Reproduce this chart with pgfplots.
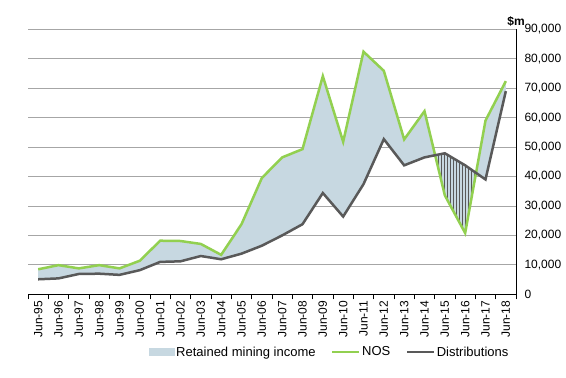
\documentclass[border=0pt]{standalone}
\usepackage{pgfplots}
\pgfplotsset{compat=1.18}
\usepackage{pgfplotstable}
\usepgfplotslibrary{fillbetween}
\usetikzlibrary{patterns}
\usepackage{fontspec}
\setmainfont{Liberation Sans}
\definecolor{nosgreen}{HTML}{92D050}
\definecolor{distgray}{HTML}{595959}
\definecolor{areablue}{HTML}{C7D8E1}
\definecolor{gridgray}{HTML}{A6A6A6}

\pgfplotstableread{
x nos dist
0 8500 5100
1 9900 5400
2 8800 6900
3 9900 7000
4 8800 6600
5 11400 8200
6 18200 11000
7 18100 11200
8 17100 13000
9 13400 11900
10 23800 13800
11 39500 16500
12 46500 20000
13 49300 23800
14 74100 34400
15 51800 26400
16 82400 37400
17 75900 52700
18 52600 43800
19 62200 46500
20 33600 47900
21 20800 43800
22 59000 39000
23 72400 69000
}\datatable

\begin{document}
\begin{tikzpicture}
\path (0pt,0pt) rectangle (566pt,378pt);
\begin{axis}[
  set layers,
  clip=false,
  at={(28pt,83.7pt)}, anchor=south west,
  scale only axis, width=488pt, height=265pt,
  xmin=-0.5, xmax=23.5, ymin=0, ymax=90000,
  axis x line*=bottom, axis y line*=right,
  axis line style={black, line width=0.75pt},
  ymajorgrids, major grid style={gridgray, line width=0.75pt},
  ytick={0,10000,...,90000},
  scaled y ticks=false,
  /pgf/number format/assume math mode=true,
  /pgf/number format/1000 sep={,},
  ytick style={draw=none},
  yticklabel style={anchor=west, xshift=5pt},
  xtick={0,...,23},
  xticklabels={Jun-95,Jun-96,Jun-97,Jun-98,Jun-99,Jun-00,Jun-01,Jun-02,Jun-03,Jun-04,Jun-05,Jun-06,Jun-07,Jun-08,Jun-09,Jun-10,Jun-11,Jun-12,Jun-13,Jun-14,Jun-15,Jun-16,Jun-17,Jun-18},
  xtick style={draw=none},
  xticklabel style={rotate=90, anchor=east, xshift=-3pt},
  extra x ticks={-0.5,0.5,...,23.5},
  extra x tick labels={},
  extra x tick style={xtick style={draw=black, line width=0.75pt}, major tick length=5pt, tick align=outside},
  tick label style={font=\fontsize{12pt}{14pt}\selectfont},
  legend style={at={(0.618,-0.218)}, anchor=center, draw=none, fill=none,
    legend columns=3, font=\fontsize{13pt}{15pt}\selectfont,
    /tikz/every odd column/.style={column sep=0pt},
    /tikz/every even column/.style={column sep=14pt},
    nodes={inner sep=1.5pt}},
]
\addlegendimage{legend image code/.code={\fill[areablue] (0pt,-3.5pt) rectangle (25pt,3.5pt);}}
\addlegendentry{Retained mining income}
\addlegendimage{legend image code/.code={\draw[nosgreen, line width=2.5pt] (0pt,0pt) -- (27pt,0pt);}}
\addlegendentry{NOS}
\addlegendimage{legend image code/.code={\draw[distgray, line width=2.5pt] (0pt,0pt) -- (27pt,0pt);}}
\addlegendentry{Distributions}

\addplot[name path=nos, draw=none, forget plot] table[x=x, y=nos]{\datatable};
\addplot[name path=dist, draw=none, forget plot] table[x=x, y=dist]{\datatable};
\addplot[areablue, on layer=axis background, forget plot] fill between[of=nos and dist];
\addplot[pattern=vertical lines, pattern color=distgray, on layer=axis background, forget plot] fill between[of=nos and dist, soft clip={domain=19.52:21.53}];
\addplot[nosgreen, line width=2.5pt, forget plot] table[x=x, y=nos]{\datatable};
\addplot[distgray, line width=2.5pt, forget plot] table[x=x, y=dist]{\datatable};
\node[anchor=base, yshift=4pt, inner sep=0pt, font=\bfseries\fontsize{12pt}{14pt}\selectfont] at (rel axis cs:1,1) {\$m};
\end{axis}
\end{tikzpicture}
\end{document}
